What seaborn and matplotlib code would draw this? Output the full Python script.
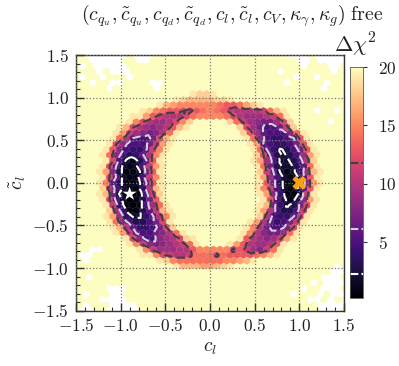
import numpy as np
import matplotlib
matplotlib.use("Agg")
import matplotlib.pyplot as plt
import seaborn as sns

# Hexagon cells: row -> [(first column, codes)].
# Code: 0-9 then a=10 ... k=20 (Delta chi^2); everything not listed is 20.
ring_top = {
    39: [(17, "jiij")],
    38: [(15, "jihhhhiij")],
    37: [(12, "jhgffffffeddegij")],
    36: [(10, "jifeddcbdefedbaaaabehj")],
    35: [(8, "jjgdbaaaceffffeca999abej")],
    34: [(8, "jfca99acfi"), (23, "ieb98779ci")],
    33: [(6, "jhca989adhj"), (24, "ic97557bi")],
    32: [(6, "jgb9878aej"), (25, "id965558ej")],
}
ring_upper = {
    31: [(5, "jea6557chj"), (25, "je854456dj")],
    30: [(5, "jc85557bgj"), (26, "jg654457dj")],
    29: [(4, "jd85446bfj"), (26, "je642357dj")],
    28: [(4, "je85346afj"), (27, "ic632359gj")],
    27: [(4, "jc52136dj"), (26, "jg952235ai")],
    26: [(4, "jc62125bgj"), (27, "je732236ej")],
    25: [(3, "jg831127dj"), (27, "ib621249hj")],
    24: [(4, "jc62115bfj"), (27, "jg952126dj")],
}
ring_lower = {
    23: [(3, "jf631126dj"), (27, "jd731138gj")],
    22: [(4, "ia52114ahj"), (27, "jfb52126dj")],
    21: [(3, "jh721015bi"), (27, "jg84113bj")],
    20: [(4, "jc520137dj"), (28, "jd53138gj")],
    19: [(4, "jb410159ej"), (27, "jh74237cj")],
    18: [(5, "i941136bhj"), (27, "jga5335bj")],
    17: [(4, "jg942246afj"), (27, "ia5446bj")],
    16: [(5, "je853357cj"), (26, "jga6457bj")],
}
ring_bottom = {
    15: [(5, "jha64457ci"), (25, "jfa7557cj")],
    14: [(6, "jgb65578aej"), (25, "jfa8779ej")],
    13: [(7, "jc85589acij"), (24, "jda989bgj")],
    12: [(8, "jfb8789abej"), (23, "jgda99adj")],
    11: [(9, "jfb999aadfffffbdb98bej")],
    10: [(10, "jjfcbaabeeebeddddefhj")],
    9: [(12, "jifeeeeeeeffghj")],
    8: [(15, "jhhhgghij")],
}
# Empty (white) cells in the corners of the scan
empty_top = {
    46: [2, 3, 4, 5, 6, 7, 9, 10, 11, 32, 33, 34, 36, 37, 38, 39],
    45: [2, 3, 4, 5, 6, 9, 10, 33, 34, 36, 37, 38, 39],
    44: [1, 3, 4, 5, 6, 7, 34, 38, 39],
    43: [3, 5, 6, 7, 30, 38],
    42: [1, 4, 8, 33, 36],
    41: [2, 5, 6, 11, 12, 31, 37],
    40: [5, 12, 37],
    36: [36, 39],
    34: [38],
}
empty_bottom = {
    11: [2, 3],
    10: [1, 2],
    9: [1],
    8: [39],
    7: [38, 39],
    6: [2, 37, 38, 39],
    5: [35, 37, 38, 39],
    4: [5, 6, 7, 34, 37, 38, 39],
    3: [1, 5, 6, 32, 36, 38, 39],
    2: [4, 5, 6, 7, 35, 36, 38],
    1: [1, 5, 6, 7, 8, 36, 37, 38, 39],
    0: [1, 2, 5, 6, 7, 8, 9, 37, 38, 39],
}
contour_levels = [2.3, 6.18, 11.83]
contour_colors = ["white", "#d4d0d8", "#404040"]
best_fit_x, best_fit_y = [-0.9], [-0.13]
sm_x, sm_y = [1.0], [0.0]
axis_ticks = [-1.5, -1.0, -0.5, 0.0, 0.5, 1.0, 1.5]
axis_labels = ["$-1.5$", "$-1.0$", "$-0.5$", "$0.0$", "$0.5$", "$1.0$", "$1.5$"]
cbar_ticks = [5, 10, 15, 20]
cbar_labels = ["$5$", "$10$", "$15$", "$20$"]
title_text = (r"$(c_{q_u},\tilde{c}_{q_u},c_{q_d},\tilde{c}_{q_d},c_l,\tilde{c}_l,"
              r"c_V,\kappa_\gamma,\kappa_g)\ \mathrm{free}$")

sns.set_theme(style="ticks")
plt.rcParams.update({"mathtext.fontset": "cm", "font.family": "DejaVu Serif"})

NX, NY = 40, 23
SX, SY = 3.0 / NX, 3.0 / NY
grid = {}
for j in range(2 * NY + 1):
    n = NX + 1 if j % 2 == 0 else NX
    for i in range(n):
        grid[(j, i)] = 20.0
for table in (ring_top, ring_upper, ring_lower, ring_bottom):
    for j, segs in table.items():
        for start, codes in segs:
            for k, ch in enumerate(codes):
                grid[(j, start + k)] = float(int(ch, 36))
missing = set()
for table in (empty_top, empty_bottom):
    for j, cols in table.items():
        missing.update((j, i) for i in cols)

keys = list(grid)
xs = np.array([-1.5 + (i + (0.5 if j % 2 else 0)) * SX for j, i in keys])
ys = np.array([-1.5 + j * SY / 2 for j, i in keys])
zs = np.array([grid[k] for k in keys])
show = np.array([k not in missing for k in keys])

fig = plt.figure(figsize=(3.99, 3.66), dpi=100)
W, H = 399.0, 366.0
ax = fig.add_axes([76 / W, 1 - 310.7 / H, 268 / W, 255.7 / H])
cax = fig.add_axes([350 / W, 1 - 298 / H, 12.7 / W, 231 / H])

cmap = sns.color_palette("magma", as_cmap=True)
hb = ax.hexbin(xs[show], ys[show], C=zs[show], gridsize=(NX, NY),
               extent=(-1.5, 1.5, -1.5, 1.5), reduce_C_function=np.min,
               cmap=cmap, vmin=0.25, vmax=20, linewidths=0.2, edgecolors="face",
               zorder=1)
ax.tricontour(xs, ys, zs, levels=contour_levels, colors=contour_colors,
              linewidths=1.5, linestyles=[(0, (4, 2))], zorder=3)
sns.scatterplot(x=best_fit_x, y=best_fit_y, marker="*", s=110, color="white",
                edgecolor="none", ax=ax, zorder=5, legend=False)
sns.scatterplot(x=sm_x, y=sm_y, marker="X", s=100, color="#f5a30f",
                edgecolor="none", ax=ax, zorder=5, legend=False)

ax.set_xlim(-1.5, 1.5)
ax.set_ylim(-1.5, 1.5)
ax.set_xticks(axis_ticks, axis_labels, fontsize=12.5)
ax.set_yticks(axis_ticks, axis_labels, fontsize=12.5)
ax.set_xticks(np.arange(-15, 16) / 10, minor=True)
ax.set_yticks(np.arange(-15, 16) / 10, minor=True)
ax.tick_params(which="major", direction="in", length=6, width=1, color="#333333",
               pad=5, labelcolor="#222222")
ax.tick_params(which="minor", direction="in", length=3, width=0.8, color="#333333")
ax.grid(True, which="major", ls=":", color="#777777", lw=0.9)
ax.set_axisbelow(False)
for s in ax.spines.values():
    s.set_color("#333333")
    s.set_linewidth(1.0)
ax.set_xlabel(r"$c_l$", fontsize=14, labelpad=3, color="#222222")
ax.set_ylabel(r"$\tilde{c}_l$", fontsize=14, labelpad=3, color="#222222")

cb = fig.colorbar(hb, cax=cax)
cb.set_ticks(cbar_ticks, labels=cbar_labels)
cb.ax.tick_params(direction="out", length=3, width=0.8, labelsize=12.5, pad=8,
                  color="#333333", labelcolor="#222222")
cb.outline.set_edgecolor("#555555")
cb.outline.set_linewidth(0.6)
for lev, col in zip(contour_levels, contour_colors):
    cax.axhline(lev, color=col, lw=1.5, ls=(0, (4, 1.5)))

fig.text(232 / W, 1 - 16 / H, title_text, ha="center", va="center",
         fontsize=14.3, color="#222222")
fig.text(355 / W, 1 - 45 / H, r"$\Delta\chi^2$", ha="center", va="center",
         fontsize=16, color="#222222")

fig.savefig("out.png", dpi=100)
